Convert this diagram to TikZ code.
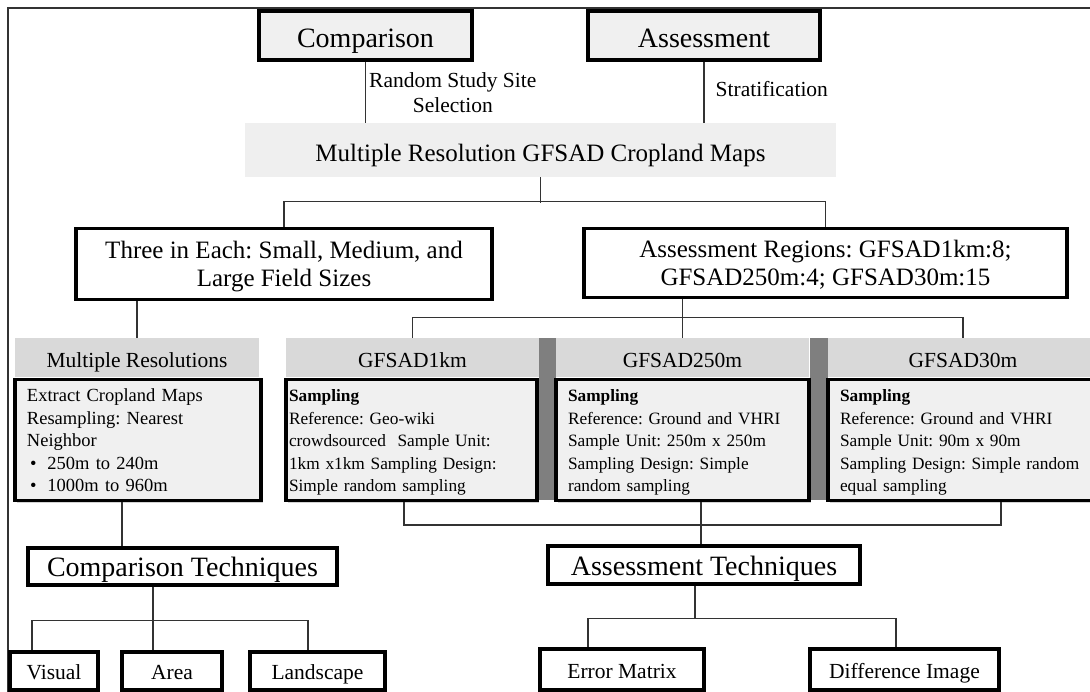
\documentclass[tikz,border=0pt]{standalone}
\usepackage{fontspec}
\setmainfont{Liberation Serif}
\usetikzlibrary{shadows}
\definecolor{boxgray}{HTML}{F0F0F0}
\definecolor{mapgray}{HTML}{EFEFEF}
\definecolor{headgray}{HTML}{D9D9D9}
\definecolor{stripgray}{HTML}{7F7F7F}
\definecolor{linegray}{HTML}{333333}
\frenchspacing

\begin{document}
\begin{tikzpicture}[x=1pt, y=-1pt,
  every node/.style={inner sep=0pt, align=center},
  conn/.style={draw=linegray, line width=1.4pt},
  title/.style={draw, line width=3.4pt, fill=boxgray, text height=25pt, text depth=1.5pt,
    font=\fontsize{28}{30}\selectfont},
  group/.style={draw, line width=3.4pt, fill=white, text depth=0pt,
    font=\fontsize{25}{28.5}\selectfont},
  header/.style={fill=headgray, minimum height=39pt, text height=20.5pt, text depth=1.3pt,
    font=\fontsize{21.5}{24}\selectfont},
  panel/.style={draw, line width=3.2pt, fill=boxgray, align=left, minimum height=121pt,
    text depth=89pt, font=\fontsize{17.3}{22.5}\selectfont,
    drop shadow={shadow xshift=2pt, shadow yshift=-2pt, opacity=.35}},
  leaf/.style={draw, line width=3.2pt, fill=white, text height=18.5pt, text depth=1.3pt,
    font=\fontsize{21.5}{24}\selectfont},
  cue/.style={font=\fontsize{21.5}{25}\selectfont}]
  \useasboundingbox (0,0) rectangle (1090,692);
  \clip (0,0) rectangle (1090,692);
  \draw[linegray, line width=1.5pt] (8,692) |- (1090,8);

  % top
  \node[title, minimum width=213pt, minimum height=49pt] (cmp) at (365.5,35.5) {Comparison};
  \node[title, minimum width=232pt, minimum height=49pt] (ass) at (704,35.5) {Assessment};
  \node[fill=mapgray, minimum width=591pt, minimum height=54pt, text height=24pt, text depth=1.5pt,
        font=\fontsize{25}{28}\selectfont] (maps) at (540.5,150) {Multiple Resolution GFSAD Cropland Maps};

  \node[group, minimum width=416pt, minimum height=71pt] (three) at (284,264)
    {Three in Each: Small, Medium, and\\Large Field Sizes};
  \node[group, minimum width=483pt, minimum height=69pt] (regions) at (825.5,263)
    {Assessment Regions: GFSAD1km:8;\\GFSAD250m:4; GFSAD30m:15};

  % panels
  \fill[stripgray] (539,338) rectangle (556,500);
  \fill[stripgray] (810,338) rectangle (828,500);
  \node[header, minimum width=244pt] (hdrMR)  at (137,357.5)   {Multiple Resolutions};
  \node[header, minimum width=253pt] (hdr1km) at (412.5,357.5) {GFSAD1km};
  \node[header, minimum width=253pt] (hdr250) at (682.5,357.5) {GFSAD250m};
  \node[header, minimum width=270pt] (hdr30)  at (963,357.5)   {GFSAD30m};

  \node[panel, text width=222pt, inner xsep=12pt, font=\fontsize{18.5}{22.5}\selectfont] (boxMR) at (138,440)
    {Extract Cropland Maps\\Resampling: Nearest\\Neighbor\\
     \hspace*{3pt}\textbullet\hspace{11pt}250m to 240m\\
     \hspace*{3pt}\textbullet\hspace{11pt}1000m to 960m};
  \node[panel, text width=245pt, inner xsep=3pt] (box1km) at (411.5,440)
    {\textbf{Sampling}\\Reference: Geo-wiki\\crowdsourced~ Sample Unit:\\1km x1km Sampling Design:\\Simple random sampling};
  \node[panel, text width=229pt, inner xsep=12pt] (box250) at (682.5,440)
    {\textbf{Sampling}\\Reference: Ground and VHRI\\Sample Unit: 250m x 250m\\Sampling Design: Simple\\random sampling};
  \node[panel, text width=246pt, inner xsep=12pt] (box30) at (963,440)
    {\textbf{Sampling}\\Reference: Ground and VHRI\\Sample Unit: 90m x 90m\\Sampling Design: Simple random\\equal sampling};

  % techniques
  \node[title, fill=white, text height=21.5pt, minimum width=309pt, minimum height=37pt] (compTech) at (182.5,566.5) {Comparison Techniques};
  \node[title, fill=white, text height=21.5pt, minimum width=312pt, minimum height=38pt] (assTech) at (704,565) {Assessment Techniques};

  \node[leaf, minimum width=88pt,  minimum height=38pt] (visual)    at (54,671)    {Visual};
  \node[leaf, minimum width=100pt, minimum height=38pt] (area)      at (172,671)   {Area};
  \node[leaf, minimum width=135pt, minimum height=38pt] (landscape) at (317.5,671) {Landscape};
  \node[leaf, minimum width=164pt, minimum height=41pt] (errMat)    at (622,669.5) {Error Matrix};
  \node[leaf, minimum width=189pt, minimum height=41pt] (diffImg)   at (904.5,669.5) {Difference Image};

  % connectors
  \draw[conn] (cmp) -- (cmp |- maps.north)
    node[midway, anchor=west, xshift=3pt, cue] {Random Study Site\\Selection};
  \draw[conn] (ass) -- (ass |- maps.north)
    node[midway, anchor=west, xshift=11pt, yshift=3pt, cue] {Stratification};
  \draw[conn] (maps) -- ++(0,53);
  \draw[conn] (three.north) -- ++(0,-25) -| (regions.north);
  \draw[conn] (hdrMR.north) -- (hdrMR.north |- three.south);
  \draw[conn] (hdr250.north) -- (hdr250.north |- regions.south);
  \draw[conn] (hdr1km.north) -- ++(0,-20) -| (hdr30.north);

  \draw[conn] ([xshift=-16pt]boxMR.south) -- ([xshift=-16pt]boxMR.south |- compTech.north);
  \draw[conn] ([xshift=-29.5pt]compTech.south) -- ++(0,34) -| ([xshift=-22pt]visual.north);
  \draw[conn] ([xshift=-29.5pt]compTech.south) -- ([xshift=-19pt]area.north);
  \draw[conn] ([xshift=-29.5pt]compTech.south) ++(0,34) -| ([xshift=-9.5pt]landscape.north);

  \draw[conn] ([xshift=-7.5pt]box1km.south) -- ++(0,23) -| ([xshift=38pt]box30.south);
  \draw[conn] ([xshift=18.5pt]box250.south) -- ([xshift=18.5pt]box250.south |- assTech.north);
  \draw[conn] ([xshift=-9pt]assTech.south) -- ++(0,33) -| ([xshift=-34pt]errMat.north);
  \draw[conn] ([xshift=-9pt]assTech.south) ++(0,33) -| ([xshift=-8.5pt]diffImg.north);
\end{tikzpicture}
\end{document}
